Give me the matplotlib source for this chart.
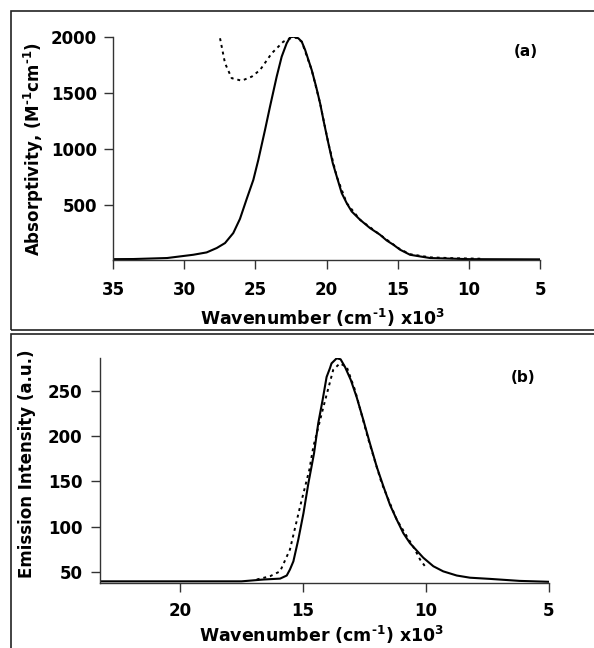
import numpy as np
import matplotlib
matplotlib.use("Agg")
import matplotlib.pyplot as plt
from matplotlib.patches import Rectangle

plt.rcParams['font.family'] = ['DejaVu Sans']
plt.rcParams['font.weight'] = 'bold'
plt.rcParams['mathtext.fontset'] = 'custom'
plt.rcParams['mathtext.rm'] = 'DejaVu Sans:bold'
plt.rcParams['mathtext.bf'] = 'DejaVu Sans:bold'
plt.rcParams['mathtext.default'] = 'rm'

# (a) absorption, wavenumber in 10^3 cm-1
abs_w = [35.0, 33.57, 31.2, 29.36, 28.42, 27.71, 27.13, 26.55, 26.08, 25.6, 25.14,
         24.79, 24.32, 23.97, 23.5, 23.15, 22.8, 22.56, 22.28, 21.98, 21.74, 21.5,
         21.04, 20.73, 20.45, 20.17, 19.87, 19.56, 19.28, 18.93, 18.58, 18.23,
         17.64, 16.94, 16.24, 15.77, 15.3, 14.83, 14.13, 13.42, 12.72, 10.0, 5.0]
abs_fit = [22, 23, 32, 61, 82, 121, 165, 254, 380, 560, 727,
           905, 1171, 1378, 1645, 1822, 1941, 1995, 2000, 1986, 1956, 1882,
           1704, 1556, 1408, 1231, 1053, 876, 757, 609, 520, 446,
           372, 298, 239, 188, 150, 106, 61, 46, 32, 22, 20]
abs_exp_w = [27.48, 27.13, 26.66, 25.96, 25.25, 24.67, 23.85, 23.03, 22.28,
             21.74, 21.04, 20.45, 19.87, 19.28, 18.58, 17.64, 16.24, 15.3,
             14.83, 14.13, 12.72, 11.0, 9.2]
abs_exp = [1986, 1764, 1631, 1609, 1645, 1704, 1852, 1956, 2000,
           1956, 1704, 1408, 1053, 757, 520, 372, 239, 152,
           110, 66, 38, 30, 26]

# (b) emission
em_w = [23.25, 17.5, 16.61, 15.93, 15.66, 15.53, 15.39, 15.19, 14.98, 14.78, 14.55,
        14.38, 14.2, 14.04, 13.9, 13.84, 13.63, 13.47, 13.29, 13.06, 12.82, 12.55,
        12.28, 12.0, 11.73, 11.46, 11.19, 10.92, 10.65, 10.11, 9.7, 9.3, 8.75,
        8.21, 7.4, 6.2, 5.0]
em_fit = [40, 40, 42, 43, 46.4, 53, 62, 86, 115, 148, 181,
          214, 240, 265, 275, 280, 285.6, 284.5, 276, 262, 243, 218,
          192, 166, 144.5, 124, 108, 93, 82, 66, 56.6, 51, 46.4,
          44, 42.7, 40.5, 39.5]
em_exp_w = [16.88, 16.34, 15.93, 15.53, 15.12, 14.74, 14.58, 14.17, 13.77, 13.5,
            13.22, 12.89, 12.34, 11.8, 11.19, 10.78, 10.45, 10.24, 10.04]
em_exp = [42, 45.6, 51, 75, 122, 163, 188, 232, 273, 280,
          276, 251, 196, 148, 108, 89.6, 75, 64, 56.6]

W, H = 594, 648
fig = plt.figure(figsize=(W / 100, H / 100), dpi=100)

# panel frames
fig.add_artist(Rectangle((11 / W, 1 - 330 / H), 590 / W, 319 / H, transform=fig.transFigure,
                         fill=False, lw=1.2, ec='#222222'))
fig.add_artist(Rectangle((11 / W, -0.05), 590 / W, 1 - 334 / H + 0.05, transform=fig.transFigure,
                         fill=False, lw=1.2, ec='#222222'))

dotted = (0, (1.5, 2.0))
xlab = r"Wavenumber (cm$^{\text{-1}}$) x10$^{3}$"


def style(ax):
    for s in ['top', 'right']:
        ax.spines[s].set_visible(False)
    for s in ['left', 'bottom']:
        ax.spines[s].set_linewidth(1.0)
        ax.spines[s].set_color('#333333')
    ax.tick_params(direction='out', length=6.7, width=1.0, color='#333333', labelsize=12)
    for t in ax.get_xticklabels() + ax.get_yticklabels():
        t.set_fontweight('bold')


# (a)
ax1 = fig.add_axes([113 / W, 1 - 260.5 / H, 427 / W, 223.8 / H])
ax1.plot(abs_w, abs_fit, color='black', lw=1.5)
ax1.plot(abs_exp_w, abs_exp, color='black', lw=1.4, linestyle=dotted)
ax1.set_xlim(35, 5)
ax1.set_ylim(10, 2000)
ax1.set_xticks([35, 30, 25, 20, 15, 10, 5])
ax1.set_yticks([500, 1000, 1500, 2000])
style(ax1)
ax1.tick_params(axis='x', pad=8)
ax1.tick_params(axis='y', pad=5)
ax1.set_ylabel(r"Absorptivity, (M$^{\text{-1}}$cm$^{\text{-1}}$)", fontsize=12, fontweight='bold')
ax1.yaxis.set_label_coords(-0.157, 0.5)
ax1.set_xlabel(xlab, fontsize=12.5, fontweight='bold')
ax1.xaxis.label.set_va('baseline')
ax1.xaxis.set_label_coords(0.49, -0.288)
ax1.text(526 / W, 1 - 52 / H, "(a)", transform=fig.transFigure, ha='center', va='center',
         fontsize=11, fontweight='bold')

# (b)
ax2 = fig.add_axes([100 / W, 1 - 582.7 / H, 449 / W, 224.4 / H])
ax2.plot(em_w, em_fit, color='black', lw=1.5)
ax2.plot(em_exp_w, em_exp, color='black', lw=1.4, linestyle=dotted)
ax2.set_xlim(23.25, 5)
ax2.set_ylim(38.5, 285.6)
ax2.set_xticks([20, 15, 10, 5])
ax2.set_yticks([50, 100, 150, 200, 250])
style(ax2)
ax2.tick_params(axis='x', pad=7.5)
ax2.tick_params(axis='y', pad=6)
ax2.set_ylabel("Emission Intensity (a.u.)", fontsize=12, fontweight='bold')
ax2.yaxis.set_label_coords(-0.142, 0.529)
ax2.set_xlabel(xlab, fontsize=12.5, fontweight='bold')
ax2.xaxis.label.set_va('baseline')
ax2.xaxis.set_label_coords(0.494, -0.263)
ax2.text(523 / W, 1 - 377 / H, "(b)", transform=fig.transFigure, ha='center', va='center',
         fontsize=11, fontweight='bold')

fig.savefig("out.png", dpi=100)
